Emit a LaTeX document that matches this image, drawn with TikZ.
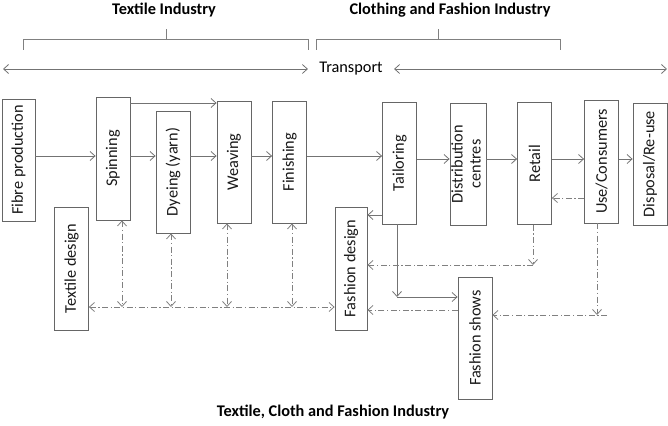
\documentclass[tikz,border=0pt]{standalone}
\usepackage{fontspec}
\setmainfont{Carlito}
\usepackage{graphicx}
\usetikzlibrary{arrows.meta}

\begin{document}
\begin{tikzpicture}[
	>={Straight Barb[length=5pt,width=9pt]},
	line width=0.8pt,
	x=1pt,y=-1pt,
	font=\fontsize{16.3}{18}\selectfont,
	box/.style={draw=black!60, minimum width=34pt, minimum height=122pt, inner sep=0pt, text=black!90},
	flow/.style={->, draw=black!55},
	back/.style={->, draw=black!50, dash pattern=on 6pt off 2.5pt on 1.2pt off 2.5pt},
	head/.style={font=\fontsize{16.3}{18}\selectfont\bfseries},
	brace/.style={draw=black!50}
	]
\useasboundingbox (0,0) rectangle (668,425);

% headings
\node[head] (textile)  at (164,10) {Textile Industry};
\node[head] (clothing) at (450,10) {Clothing and Fashion Industry};
\node[head] (whole)    at (333,412) {Textile, Cloth and Fashion Industry};

% braces
\draw[brace] (23,50) |- (308,39) -- (308,50);
\draw[brace] (166,39) -- (166,29);
\draw[brace] (316,50) |- (560,39) -- (560,50);
\draw[brace] (438,39) -- (438,29);

% transport
\node[inner xsep=11pt] (transport) at (351,69) {Transport};
\coordinate (tleft)  at (3,69);
\coordinate (tright) at (667,69);
\draw[<->, draw=black!55] (tleft) -- (transport);
\draw[<->, draw=black!55] (transport) -- (tright);

% stages
\node[box, minimum width=33pt]   (fibre)   at (18.5,160)  {\rotatebox{90}{Fibre production}};
\node[box, minimum height=123pt] (spin)    at (113,158.5) {\rotatebox{90}{Spinning}};
\node[box]                       (dye)     at (173,172)   {\rotatebox{90}{Dyeing (yarn)}};
\node[box]                       (weave)   at (234,162)   {\rotatebox{90}{Weaving}};
\node[box]                       (finish)  at (289.5,162) {\rotatebox{90}{Finishing}};
\node[box, minimum height=123pt] (tdesign) at (71.5,268.5) {\rotatebox{90}{Textile design}};
\node[box]                       (tailor)  at (399.5,163) {\rotatebox{90}{Tailoring}};
\node[box]                       (distr)   at (468,164)   {\rotatebox{90}{\begin{tabular}{@{}c@{}}Distribution\\centres\end{tabular}}};
\node[box]                       (retail)  at (534.5,163.5) {\rotatebox{90}{Retail}};
\node[box, minimum height=123pt] (use)     at (601.5,161.5) {\rotatebox{90}{Use/Consumers}};
\node[box]                       (disp)    at (650,164)   {\rotatebox{90}{Disposal/Re-use}};
\node[box, minimum width=32pt, minimum height=123pt] (fdesign) at (351,268.5) {\rotatebox{90}{Fashion design}};
\node[box]                       (fshows)  at (475,338)   {\rotatebox{90}{Fashion shows}};

% main chain
\coordinate (lane)  at (0,156);
\coordinate (lane2) at (0,159);
\coordinate (skip)  at (0,103);
\draw[flow] (fibre.east |- lane) -- (spin.west |- lane);
\draw[flow] (spin.east |- lane) -- (dye.west |- lane);
\draw[flow] (spin.east |- skip) -- (weave.west |- skip);
\draw[flow] (dye.east |- lane) -- (weave.west |- lane);
\draw[flow] (weave.east |- lane) -- (finish.west |- lane);
\draw[flow] (finish.east |- lane) -- (tailor.west |- lane);
\draw[flow] (tailor.east |- lane2) -- (distr.west |- lane2);
\draw[flow] (distr.east |- lane2) -- (retail.west |- lane2);
\draw[flow] (retail.east |- lane2) -- (use.west |- lane2);
\draw[flow] (use.east |- lane2) -- (disp.west |- lane2);

% tailoring to design and shows
\coordinate (tf)    at (0,215);
\coordinate (split) at (397,297);
\draw[flow] (tailor.west |- tf) -- (fdesign.east |- tf);
\draw[flow] (tailor.south -| split) -- (split);
\draw[flow] (split) -- (split -| fshows.west);

% feedback
\coordinate (ret)   at (0,198);
\coordinate (rdrop) at (533,265);
\coordinate (udrop) at (597,315);
\coordinate (uend)  at (607,315);
\coordinate (fs)    at (0,310);
\coordinate (bus)   at (0,307);
\draw[back] (use.west |- ret) -- (retail.east |- ret);
\draw[back] (retail.south -| rdrop) -- (rdrop);
\draw[back] (rdrop) -- (rdrop -| fdesign.east);
\draw[back] (use.south -| udrop) -- (udrop);
\draw[back] (uend) -- (uend -| fshows.east);
\draw[back] (fshows.west |- fs) -- (fdesign.east |- fs);
\draw[back, <->] (tdesign.east |- bus) -- (fdesign.west |- bus);
\foreach \n/\dx in {spin/9, dye/-2, weave/-7, finish/2.5}
	\draw[back, <->] ([xshift=\dx pt]\n.south) -- ([xshift=\dx pt]\n.south |- bus);

\end{tikzpicture}
\end{document}
